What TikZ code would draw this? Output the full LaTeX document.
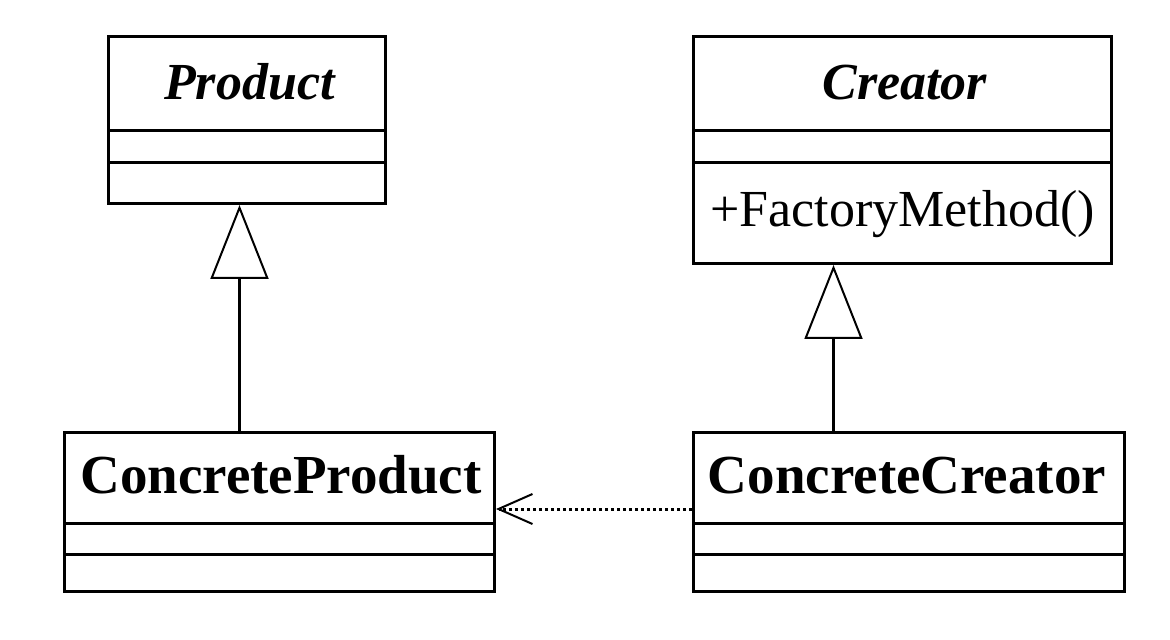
\documentclass[tikz,border=0pt]{standalone}
\usepackage{fontspec}
\setmainfont{Liberation Serif}
\usetikzlibrary{arrows.meta}
\begin{document}
\begin{tikzpicture}[x=0.5pt,y=-0.5pt,
  classbox/.style={draw, line width=1.5pt, inner sep=0pt, anchor=north west},
  sep/.style={line width=1.5pt},
  classname/.style={inner sep=0pt, anchor=base, font=\fontsize{26}{30}\selectfont},
  inherit/.style={line width=1.5pt, -{Triangle[open, length=37pt, width=29pt, line width=1pt]}},
  depend/.style={line width=1.5pt, dash pattern=on 1.5pt off 1.5pt, -{Straight Barb[length=17pt, width=15pt, line width=1pt]}}]
\useasboundingbox (0,0) rectangle (1170,640);
% abstract classes
\node[classbox, minimum width=138.5pt, minimum height=83.5pt] (product) at (107,35){};
\node[classbox, minimum width=209pt, minimum height=113.5pt] (creator) at (692,35){};
\draw[sep] ([yshift=-48pt]product.north west) -- ([yshift=-48pt]product.north east);
\draw[sep] ([yshift=-64pt]product.north west) -- ([yshift=-64pt]product.north east);
\draw[sep] ([yshift=-48pt]creator.north west) -- ([yshift=-48pt]creator.north east);
\draw[sep] ([yshift=-64pt]creator.north west) -- ([yshift=-64pt]creator.north east);
\node[classname] (productname) at (250,100){\textbf{\textit{Product}}};
\node[classname] (creatorname) at (905,100){\textbf{\textit{Creator}}};
\node[classname, anchor=base west] (factorymethod) at (710,227){+FactoryMethod()};
% concrete classes
\node[classbox, minimum width=215pt, minimum height=79.5pt] (cproduct) at (63,431){};
\node[classbox, minimum width=215.5pt, minimum height=79.5pt] (ccreator) at (692,431){};
\draw[sep] ([yshift=-46pt]cproduct.north west) -- ([yshift=-46pt]cproduct.north east);
\draw[sep] ([yshift=-61.5pt]cproduct.north west) -- ([yshift=-61.5pt]cproduct.north east);
\draw[sep] ([yshift=-46pt]ccreator.north west) -- ([yshift=-46pt]ccreator.north east);
\draw[sep] ([yshift=-61.5pt]ccreator.north west) -- ([yshift=-61.5pt]ccreator.north east);
\node[classname, font=\fontsize{27.5}{32}\selectfont] (cproductname) at (281,493){\textbf{ConcreteProduct}};
\node[classname, font=\fontsize{27.5}{32}\selectfont] (ccreatorname) at (907,493){\textbf{ConcreteCreator}};
% relations
\draw[inherit] ([xshift=-20pt]cproduct.north) -- ([xshift=-3.75pt]product.south);
\draw[inherit] ([xshift=-37.75pt]ccreator.north) -- ([xshift=-34.5pt]creator.south);
\draw[depend] ([yshift=1.5pt]ccreator.west) -- ([yshift=1.5pt]cproduct.east);
\end{tikzpicture}
\end{document}
